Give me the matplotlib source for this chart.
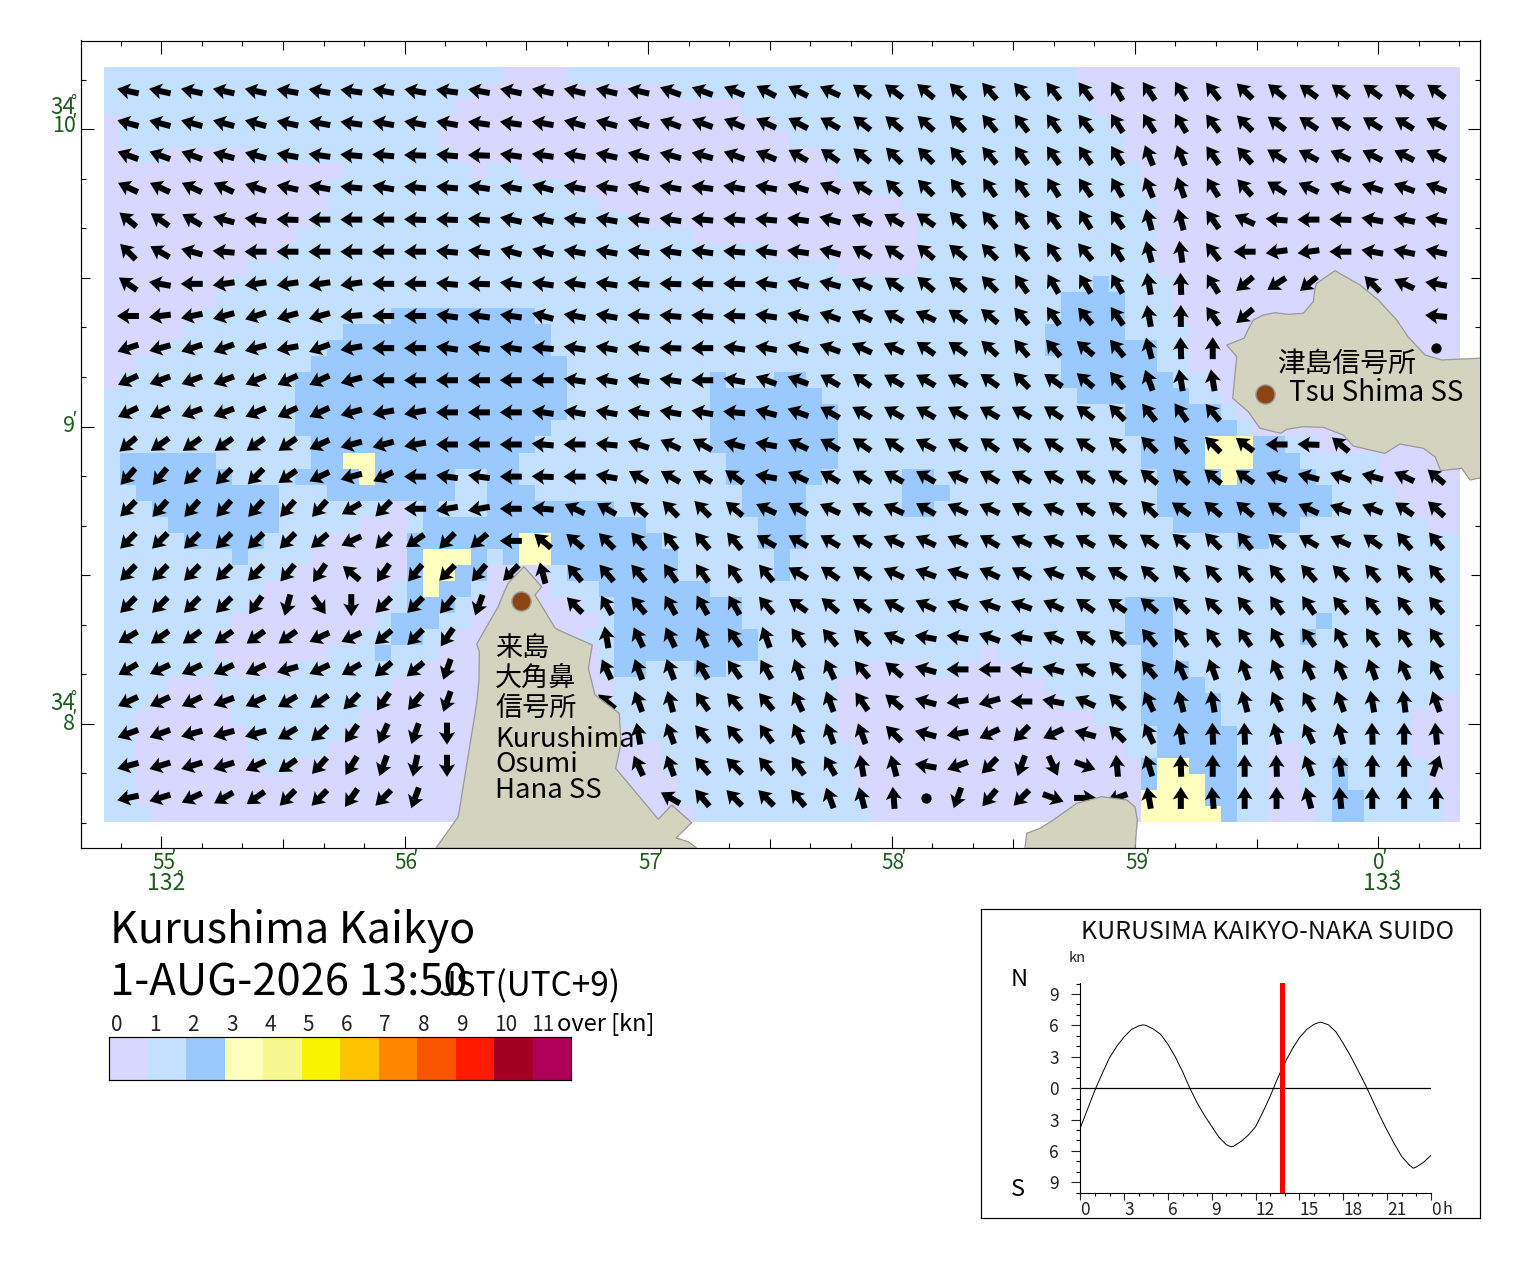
import numpy as np
import matplotlib
matplotlib.use('Agg')
import matplotlib.pyplot as plt
from matplotlib.colors import ListedColormap, BoundaryNorm
from matplotlib.patches import Polygon
from matplotlib.transforms import ScaledTranslation

plt.rcParams['font.family'] = ['Noto Sans CJK JP', 'DejaVu Sans']

W, H = 1520, 1269

# speed classes [kn]
scale_labels = ['0', '1', '2', '3', '4', '5', '6', '7', '8', '9', '10', '11']
scale_colors = ['#d7d7ff', '#c3e1ff', '#99c9ff', '#ffffbe', '#f8f892', '#f9f300',
                '#ffc400', '#ff8800', '#fa5500', '#ff1a00', '#a50021', '#b0005a']

# speed class per cell, north row first, "class*count"
speed_rows = [
    "1*25 0*4 1*32 0*24",
    "1*23 0*13 1*26 0*23",
    "1*22 0*18 1*22 0*23",
    "0*1 1*20 0*21 1*21 0*22",
    "0*1 1*20 0*22 1*21 0*21",
    "0*2 1*2 0*5 1*13 0*23 1*19 0*21",
    "0*15 1*8 0*1 1*2 0*20 1*19 0*20",
    "0*14 1*15 0*19 1*17 0*20",
    "0*14 1*17 0*19 1*16 0*19",
    "0*13 1*20 0*18 1*15 0*19",
    "0*12 1*25 0*14 1*15 0*19",
    "0*11 1*31 0*10 1*14 0*19",
    "0*9 1*37 0*5 1*15 0*19",
    "0*8 1*54 2*1 1*4 0*18",
    "0*7 1*53 2*4 1*3 0*18",
    "0*6 1*12 2*9 1*33 2*4 1*3 0*18",
    "0*5 1*10 2*13 1*31 2*5 1*4 0*17",
    "0*4 1*10 2*14 1*31 2*7 1*2 0*17",
    "0*2 1*11 2*16 1*31 2*6 1*2 0*17",
    "0*1 1*11 2*17 1*9 2*1 1*3 2*2 1*16 2*7 1*2 0*16",
    "1*12 2*17 1*9 2*7 1*16 2*7 1*2 0*15",
    "1*12 2*17 1*9 2*8 1*18 2*6 1*1 0*14",
    "1*12 2*16 1*10 2*8 1*18 2*7 1*1 0*13",
    "1*13 2*14 1*11 2*8 1*19 2*4 3*3 2*2 1*2 0*9",
    "1*1 2*6 1*6 2*2 3*2 2*9 1*13 2*7 1*19 2*4 3*3 2*3 1*5 0*5",
    "1*1 2*7 1*4 2*4 3*1 2*5 1*2 2*2 1*13 2*6 1*5 2*2 1*14 2*4 3*1 2*5 1*4 0*5",
    "1*2 2*9 1*3 2*8 1*2 2*3 1*13 2*4 1*6 2*3 1*13 2*11 1*4 0*4",
    "1*3 2*8 1*7 0*1 1*1 2*1 1*3 2*8 1*8 2*4 1*6 2*2 1*14 2*11 1*5 0*3",
    "1*4 2*7 1*5 0*3 1*1 2*14 1*7 2*3 1*23 2*8 1*8 0*2",
    "1*5 2*5 1*4 0*5 2*7 3*2 2*7 1*6 2*3 1*27 2*2 1*12",
    "1*8 2*1 1*4 0*6 2*1 3*3 2*1 1*1 2*1 3*2 2*8 1*6 2*1 1*42",
    "1*12 0*7 2*1 3*2 2*2 0*4 1*1 2*7 1*6 2*1 1*42",
    "1*10 0*8 1*1 2*1 3*1 2*2 1*1 0*4 1*3 2*7 1*47",
    "1*9 0*9 1*1 2*3 1*1 0*7 1*2 2*8 1*24 2*3 1*18",
    "1*8 0*9 1*1 2*3 1*2 0*8 1*1 2*8 1*24 2*3 1*9 2*1 1*8",
    "1*7 0*9 1*2 2*2 1*2 0*8 1*2 2*9 1*23 2*3 1*8 2*1 1*9",
    "1*7 0*7 1*3 2*1 1*3 0*10 1*1 2*9 1*14 0*1 1*9 2*2 1*18",
    "1*8 0*4 1*8 0*11 1*1 2*2 1*3 2*2 1*8 0*5 1*2 0*4 1*7 2*3 1*17",
    "1*4 0*3 1*11 0*14 1*14 0*13 1*6 2*4 1*16",
    "1*3 0*5 1*9 0*15 1*14 0*14 1*5 2*5 1*13 0*2",
    "1*2 0*6 1*8 0*16 1*14 0*16 1*3 2*5 1*12 0*3",
    "1*2 0*7 1*6 0*18 1*13 0*17 1*3 2*5 1*11 0*3",
    "1*2 0*7 1*5 0*21 1*12 0*17 1*2 2*5 1*2 0*2 1*7 0*3",
    "1*2 0*8 1*2 0*23 1*12 0*18 2*1 3*2 2*3 1*2 0*2 1*2 2*1 1*5 0*2",
    "1*2 0*34 1*11 0*18 2*1 3*3 2*2 1*2 0*2 1*2 2*1 1*5 0*2",
    "1*2 0*34 1*12 0*17 3*4 2*2 1*2 0*3 1*1 2*2 1*5 0*1",
    "1*3 0*34 1*11 0*17 3*5 2*1 1*2 0*3 1*1 2*2 1*5 0*1",
]

# flow heading in degrees (180 = west, 90 = north), every second cell; x = none
x = np.nan
heading_rows = [
    [168,168,168,168,168,170,170,172,170,170,172,170,168,168, 167,167,167,160,160,157,152,153,155,144,143,140,135,131,131,128, 127,121,124,122,128,136,141,144,143,144,144,144],
    [165,165,165,165,165,168,170,172,170,170,170,172,172,170, 165,165,163,160,160,157,155,152,150,142,140,138,134,130,128,126, 128,123,122,121,127,135,143,146,148,148,148,153],
    [160,160,160,165,165,170,172,175,175,178,175,178,172,172, 170,168,165,165,165,160,157,150,145,140,135,135,130,130,125,125, 125,122,112,112,125,132,148,152,155,153,153,153],
    [155,155,155,155,162,168,170,175,170,175,175,172,170,165, 170,172,165,170,172,170,170,163,155,148,135,135,128,125,125,122, 125,120,112,110,122,132,148,155,160,162,160,160],
    [140,145,150,165,172,178,180,180,180,178,178,175,168,168, 172,170,172,172,175,175,175,172,165,155,150,145,135,130,125,125, 122,125,105,105,125,155,175,180,178,170,168,168],
    [135,150,165,175,180,180,180,180,180,180,175,172,165,165, 170,170,172,172,172,175,172,172,165,150,145,140,140,135,130,125, 130,122,105,98,128,180,188,188,180,170,168,168],
    [145,170,180,188,188,188,188,188,180,180,175,178,172,172, 172,172,175,178,178,178,172,165,165,155,145,140,140,135,125,120, 122,120,100,92,122,220,213,220,x,135,155,170],
    [180,187,192,195,198,195,195,185,180,180,172,172,172,165, 170,170,175,175,175,178,172,165,160,155,150,155,145,140,130,125, 130,125,100,90,125,220,x,x,x,x,x,175],
    [198,195,198,200,195,190,200,190,180,180,172,172,172,175, 172,170,172,178,180,172,170,165,160,155,155,145,145,138,130,130, 140,130,105,92,90,x,x,x,x,x,x,x],
    [205,200,200,200,203,205,205,195,180,180,180,180,180,180, 172,170,170,172,180,170,160,160,150,145,150,150,150,145,135,145, 140,130,110,100,100,x,x,x,x,x,x,x],
    [205,205,200,200,203,205,205,195,190,190,180,180,180,172, 170,170,170,170,170,175,165,160,150,150,150,150,150,150,150,147, 143,135,128,125,130,x,x,x,x,x,x,x],
    [220,215,215,215,215,215,205,195,195,190,180,180,180,175, 180,175,162,155,150,165,170,155,150,145,145,152,150,145,145,146, 146,138,135,130,135,143,180,178,140,x,x,x],
    [228,230,225,225,225,215,205,195,205,180,172,172,180,178, 180,170,150,150,150,145,170,155,150,148,150,150,155,150,150,150, 147,145,140,137,140,145,160,165,160,165,155,140],
    [225,228,228,228,228,228,228,210,225,180,190,190,180,175, 155,150,140,135,135,140,155,150,155,150,155,150,155,155,150,155, 148,142,135,145,140,140,145,155,160,158,145,138],
    [225,225,225,225,225,225,220,205,225,215,225,220,180,140, 140,135,130,128,130,130,150,150,150,150,155,155,155,150,155,155, 150,145,145,140,135,130,140,150,155,145,130,130],
    [225,225,225,225,225,230,235,140,235,230,225,230,225,105, 130,130,130,125,125,125,130,150,145,145,155,160,160,155,150,158, 148,148,138,135,132,130,130,132,135,130,130,130],
    [225,225,225,225,235,255,305,270,225,225,230,250,x,x, 135,120,130,120,120,120,130,145,140,145,150,155,160,160,160,155, 145,145,140,135,135,130,125,125,130,128,128,130],
    [210,215,215,215,215,215,205,205,220,225,235,x,x,x, x,100,115,115,115,125,110,125,130,135,155,170,170,160,170,155, 145,135,130,125,125,125,120,125,120,125,125,125],
    [210,205,205,205,205,195,205,210,220,220,250,x,x,x, x,115,110,110,120,125,120,110,115,130,140,165,180,180,172,165, 150,135,130,115,110,110,115,115,115,110,115,120],
    [205,205,205,200,205,210,215,225,235,230,250,x,x,x, x,140,110,105,125,130,130,115,110,125,140,165,188,195,180,170, 155,135,115,105,100,105,115,120,110,100,97,110],
    [200,200,195,195,195,210,222,235,245,250,270,x,x,x, x,x,100,110,130,130,125,115,110,110,135,165,190,205,225,205, 165,135,115,100,92,92,105,115,105,92,90,95],
    [195,197,197,197,205,215,228,238,250,258,270,x,x,x, x,x,115,110,130,135,130,125,120,100,105,170,200,225,250,295, 340,95,108,92,90,90,92,110,98,90,90,70],
    [192,197,205,210,215,225,225,235,225,250,x,x,x,x, x,x,x,150,130,135,135,130,110,105,95,x,250,230,225,340, 0,200,100,90,95,90,90,105,95,90,90,90],
]
# cells with no flow, drawn as a dot
slack_row = [8, 22]
slack_col = [41, 25]

# coast outlines, traced on the picture
kurushima_x = [436, 458.3, 476.7, 479, 479.3, 476.7, 498, 505, 508.3, 524, 541.7, 535, 543, 555, 560, 592.3, 588.3, 595, 619.3, 621, 615.7, 658.3, 671.7, 691.7, 676, 688.3, 696.7]
kurushima_y = [848, 816.7, 703, 680, 651.7, 644, 607, 590, 583, 566.7, 586.7, 595, 608, 628, 630.7, 645, 668.3, 695, 713.3, 743.3, 768.3, 819.3, 805, 822.7, 838, 841.7, 848]
hashihama_x = [1025, 1026.7, 1040, 1053.3, 1076.7, 1101.7, 1126.7, 1135, 1137.3, 1135]
hashihama_y = [848, 833.3, 828.3, 820, 803.3, 796.7, 800, 806.7, 820, 848]
tsushima_x = [1226.7, 1244, 1248.3, 1253.3, 1263.3, 1275, 1288.3, 1303.3, 1313.3, 1315, 1316.7, 1335, 1360, 1378.3, 1396.7, 1408, 1425, 1441.7, 1490, 1490, 1470, 1461.7, 1440.7, 1435, 1423.3, 1400, 1385, 1370, 1353.3, 1343.3, 1323.3, 1303, 1286.7, 1280.7, 1260, 1248.3, 1232.7, 1236.7]
tsushima_y = [345, 338.3, 329.3, 320, 315, 312.7, 314.3, 313.3, 301.7, 288.3, 283.3, 270.7, 285, 300, 320, 336.7, 355, 360, 357.7, 476, 480, 468.3, 470.7, 456.7, 448.3, 444, 453.3, 450, 446, 435, 427.3, 426.7, 429.3, 433.3, 428.3, 411.7, 398.3, 356.7]
station_x = [521, 1265]
station_y = [601, 394]

# tidal stream at the strait
curve_hour = [0, 0.5, 1, 1.5, 2, 2.5, 3, 3.5, 4, 4.3, 4.5, 5, 5.5, 6, 6.5, 7, 7.5, 8, 8.5, 9, 9.5, 10, 10.3, 10.5, 11, 11.5, 12, 12.5, 13, 13.5, 14, 14.5, 15, 15.5, 16, 16.4, 16.5, 17, 17.5, 18, 18.5, 19, 19.5, 20, 20.5, 21, 21.5, 22, 22.5, 22.8, 23, 23.5, 24]
curve_knots = [-3.8, -2.0, -0.2, 1.4, 2.9, 4.0, 4.9, 5.6, 5.95, 6.05, 6.0, 5.65, 5.15, 4.2, 3.0, 1.6, 0, -1.4, -2.6, -3.65, -4.7, -5.4, -5.6, -5.55, -5.1, -4.5, -3.7, -2.3, -0.8, 0.9, 2.4, 3.7, 4.8, 5.6, 6.1, 6.3, 6.3, 6.05, 5.4, 4.3, 3.1, 1.75, 0.4, -1.1, -2.6, -4.0, -5.3, -6.5, -7.3, -7.65, -7.55, -7.1, -6.45]
now_hour = 13 + 50 / 60


def to_lon(px):
    return 55 + (px - 161.3) / 243.4


def to_lat(py):
    return 10 - (py - 129.3) / 297.3


def add_axes_px(left, top, right, bottom):
    return fig.add_axes([left / W, 1 - bottom / H, (right - left) / W, (bottom - top) / H])


def ftext(px, py, s, **kw):
    kw.setdefault('va', 'center')
    kw.setdefault('ha', 'left')
    kw.setdefault('color', 'black')
    return fig.text(px / W, 1 - py / H, s, **kw)


def decode_row(row):
    out = []
    for part in row.split():
        cls, n = part.split('*')
        out += [int(cls)] * int(n)
    return out


fig = plt.figure(figsize=(W / 100, H / 100), dpi=100, facecolor='white')

# ---- map ----
ax = add_axes_px(80.5, 40.5, 1480, 848)
speed = np.array([decode_row(r) for r in speed_rows])
heading = np.array(heading_rows, dtype=float)
lon_edges = np.linspace(to_lon(104), to_lon(1460), speed.shape[1] + 1)
lat_edges = np.linspace(to_lat(67), to_lat(822), speed.shape[0] + 1)
lon_mid = (lon_edges[:-1] + lon_edges[1:]) / 2
lat_mid = (lat_edges[:-1] + lat_edges[1:]) / 2

cmap = ListedColormap(scale_colors)
norm = BoundaryNorm(np.arange(13), 12)
ax.pcolormesh(lon_edges, lat_edges, speed + 0.5, cmap=cmap, norm=norm, antialiased=False, zorder=1)

lon2, lat2 = np.meshgrid(lon_mid[1::2], lat_mid[1::2])
rad = np.radians(heading)
arrow_len = 22
ax.quiver(lon2, lat2, arrow_len * np.cos(rad), arrow_len * np.sin(rad), angles='uv', scale_units='dots',
          scale=1, units='dots', width=6, headwidth=2.7, headlength=2.1, headaxislength=1.8,
          pivot='mid', color='black', zorder=2)
ax.scatter(lon_mid[1::2][slack_col], lat_mid[1::2][slack_row], s=55, color='black', linewidths=0, zorder=2)

for cx, cy in [(kurushima_x, kurushima_y), (hashihama_x, hashihama_y), (tsushima_x, tsushima_y)]:
    pts = np.column_stack([to_lon(np.array(cx)), to_lat(np.array(cy))])
    ax.add_patch(Polygon(pts, closed=True, facecolor='#d3d3c0', edgecolor='#999999', linewidth=0.9, zorder=3))
ax.scatter(to_lon(np.array(station_x)), to_lat(np.array(station_y)), s=190, color='#8b4513',
           edgecolors='#999999', linewidths=1, zorder=4)

ax.set_xlim(to_lon(80.5), to_lon(1480))
ax.set_ylim(to_lat(848), to_lat(40.5))
ax.set_xticks([55, 56, 57, 58, 59, 60])
ax.set_yticks([8, 9, 10])
ax.set_xticks([v / 6 for v in range(54 * 6, 61 * 6) if to_lon(81) < v / 6 < to_lon(1480)], minor=True)
ax.set_yticks([v / 6 for v in range(7 * 6, 11 * 6) if to_lat(848) < v / 6 < to_lat(41)], minor=True)
ax.tick_params(which='major', direction='in', length=9, width=0.8, top=True, right=True,
               labelbottom=False, labelleft=False)
ax.tick_params(which='minor', direction='in', length=3.6, width=0.8, top=True, right=True)
for axis in (ax.xaxis, ax.yaxis):
    for tick, loc in zip(axis.get_minor_ticks(), axis.get_minorticklocs()):
        if abs(loc * 2 - round(loc * 2)) < 1e-6:
            tick.tick1line.set_markersize(6.3)
            tick.tick2line.set_markersize(6.3)
for sp in ax.spines.values():
    sp.set_linewidth(0.85)

# map labels
green = '#1d5c1d'
for px, s in [(163.5, '55'), (406, '56'), (650.5, '57'), (893.5, '58'), (1137.5, '59'), (1379, '0')]:
    ftext(px, 863, s, ha='center', fontsize=15, color=green)
for px in [172.5, 415, 659.5, 902.5, 1146.5, 1384]:
    ftext(px, 860, '′', ha='center', fontsize=14, color=green)
for px, s in [(166, '132'), (1382, '133')]:
    ftext(px, 883, s, ha='center', fontsize=16.5, color=green)
for px in [179.5, 1396]:
    ftext(px, 878, '°', ha='center', fontsize=12, color=green)
for py, s in [(107, '34'), (703, '34')]:
    ftext(75.5, py, s, ha='right', fontsize=16, color=green)
for py in [102, 698]:
    ftext(73.5, py, '°', ha='center', fontsize=12, color=green)
for py, s in [(126.5, '10'), (425.5, '9'), (723.5, '8')]:
    ftext(75.5, py, s, ha='right', fontsize=15.5, color=green)
for py in [123, 422, 720]:
    ftext(73.5, py, '′', ha='center', fontsize=14, color=green)

for py, s in [(648, '来島'), (678, '大角鼻'), (708, '信号所')]:
    ftext(495, py, s, fontsize=19.5)
for py, s in [(740, 'Kurushima'), (765, 'Osumi'), (790, 'Hana SS')]:
    ftext(495, py, s, fontsize=19.8)
ftext(1277, 364, '津島信号所', fontsize=20)
ftext(1289, 393, 'Tsu Shima SS', fontsize=20)

# ---- heading ----
ftext(110, 931, 'Kurushima Kaikyo', fontsize=31)
ftext(110, 983, '1-AUG-2026 13:50', fontsize=31.4)
ftext(439, 987, 'JST(UTC+9)', fontsize=24)

# ---- speed scale ----
cax = add_axes_px(109, 1037, 571.5, 1080)
cax.pcolormesh(np.arange(13), [0, 1], (np.arange(12) + 0.5).reshape(1, -1), cmap=cmap, norm=norm,
               antialiased=False)
cax.set_xticks([])
cax.set_yticks([])
for sp in cax.spines.values():
    sp.set_linewidth(0.85)
label_shift = [0] * 10 + [5.5, 4]
for i, s in enumerate(scale_labels):
    ftext(116.5 + 38.4 * i + label_shift[i], 1025, s, ha='center', fontsize=15, color='#222222')
ftext(557, 1025, 'over [kn]', fontsize=17)

# ---- tide curve box ----
box = add_axes_px(981, 909, 1480, 1218)
box.set_xticks([])
box.set_yticks([])
box.patch.set_alpha(0)
for sp in box.spines.values():
    sp.set_linewidth(0.85)

tax = add_axes_px(1080.3, 983, 1430.7, 1193.3)
tax.plot(curve_hour, curve_knots, color='black', lw=0.7, zorder=2)
tax.axhline(0, color='black', lw=0.9, zorder=1)
tax.axvline(now_hour, color='#ff0000', lw=3.6, zorder=3)
tax.set_xlim(0, 24)
tax.set_ylim(-10.05, 10.05)
tax.spines['top'].set_visible(False)
tax.spines['right'].set_visible(False)
tax.set_xticks(np.arange(0, 25, 3))
tax.set_xticklabels(['0', '3', '6', '9', '12', '15', '18', '21', '0'])
tax.set_xticks(np.arange(0, 25), minor=True)
tax.set_yticks(np.arange(-9, 10, 3))
tax.set_yticklabels(['9', '6', '3', '0', '3', '6', '9'])
tax.set_yticks(np.arange(-10, 11), minor=True)
tax.tick_params(axis='y', which='major', length=6.5, width=0.8, labelsize=12.5, pad=9, colors='#222222')
tax.tick_params(axis='y', which='minor', length=3, width=0.8)
tax.tick_params(axis='x', which='major', length=4.8, width=0.8, labelsize=12.5, pad=1, colors='#222222')
tax.tick_params(axis='x', which='minor', length=2.4, width=0.8)
shift = ScaledTranslation(0, 0, fig.dpi_scale_trans)
for lab in tax.get_xticklabels():
    lab.set_ha('left')
    lab.set_transform(lab.get_transform() + shift)

ftext(1081, 932, 'KURUSIMA KAIKYO-NAKA SUIDO', fontsize=18, color='#111111')
ftext(1069, 958, 'kn', fontsize=10.5, color='#222222')
ftext(1011, 980, 'N', fontsize=17)
ftext(1011, 1190, 'S', fontsize=17)
ftext(1443, 1210, 'h', fontsize=11.5, color='#222222')

fig.savefig('out.png', dpi=100)
